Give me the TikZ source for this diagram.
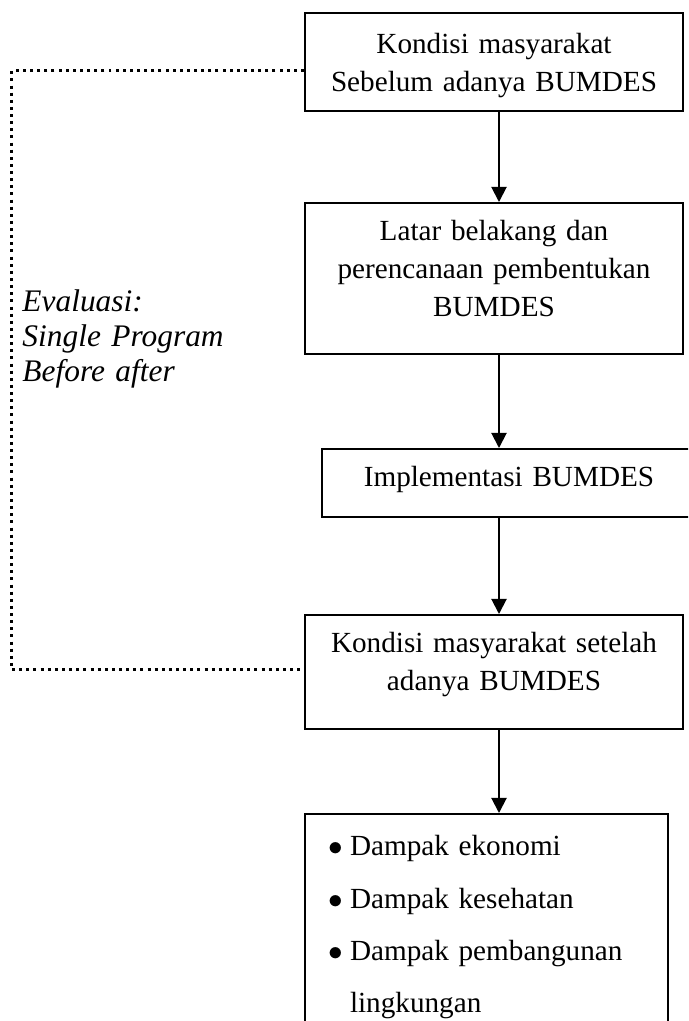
\documentclass[tikz,border=0pt]{standalone}
\usepackage{fontspec}
\setmainfont{Liberation Serif}
\usepackage{tikz}
\usetikzlibrary{arrows.meta,positioning,calc}

\tikzset{
  kotak/.style={draw, line width=0.8pt, inner xsep=0pt, inner ysep=0pt,
    align=center, anchor=north, font=\fontsize{12pt}{15.6pt}\selectfont},
  panah/.style={line width=0.8pt, -{Triangle[length=6.2pt,width=6.2pt]}},
  titik/.style={line width=1.23pt, dash pattern=on 1.23pt off 1.7pt}
}
\newcommand{\butir}{\makebox[9pt][l]{$\bullet$}}

\begin{document}
\begin{tikzpicture}[x=0.411pt, y=-0.411pt]
    \useasboundingbox (0,0) rectangle (688,1021);
    \clip (0,0) rectangle (688,1021);

    % axis of the arrows
    \coordinate (sumbu) at (499,0);

    % Boxes
    \node[kotak, text width=155.4pt, text height=16.85pt, text depth=23.43pt]
      (awal) at (494,12) {Kondisi masyarakat\\Sebelum adanya BUMDES};
    \node[kotak, text width=155.4pt, text height=15.62pt, text depth=46.44pt]
      (latar) at (494,202) {Latar belakang dan\\perencanaan pembentukan\\BUMDES};
    \node[kotak, text width=153.7pt, text height=15.6pt, text depth=12.3pt]
      (impl) at (509,448) {Implementasi BUMDES};
    \node[kotak, text width=155.4pt, text height=15.6pt, text depth=31.2pt]
      (akhir) at (494,614) {Kondisi masyarakat setelah\\adanya BUMDES};

    % Dampak (runs off the page)
    \node[kotak, align=left, inner xsep=9.5pt, text width=130.2pt,
      text height=17.2pt, text depth=77.3pt,
      font=\fontsize{12pt}{21.5pt}\selectfont]
      (dampak) at (486.5,813) {\butir Dampak ekonomi\\\butir Dampak kesehatan\\
        \butir Dampak pembangunan\\\hspace*{9pt}lingkungan};

    % Arrows
    \draw[panah] (awal.south -| sumbu) -- (latar.north -| sumbu);
    \draw[panah] (latar.south -| sumbu) -- (impl.north -| sumbu);
    \draw[panah] (impl.south -| sumbu) -- (akhir.north -| sumbu);
    \draw[panah] (akhir.south -| sumbu) -- (dampak.north -| sumbu);

    % Evaluation loop
    \draw[titik] ([yshift=-3.7pt]awal.west) -- ++(-292,0)
      |- ([yshift=0.8pt]akhir.west);
    \node[anchor=base west, inner sep=0pt, align=left, text width=100pt,
      font=\fontsize{12.9pt}{14.4pt}\selectfont\itshape]
      (eval) at (22,311) {Evaluasi:\\Single Program\\Before after};
\end{tikzpicture}
\end{document}
